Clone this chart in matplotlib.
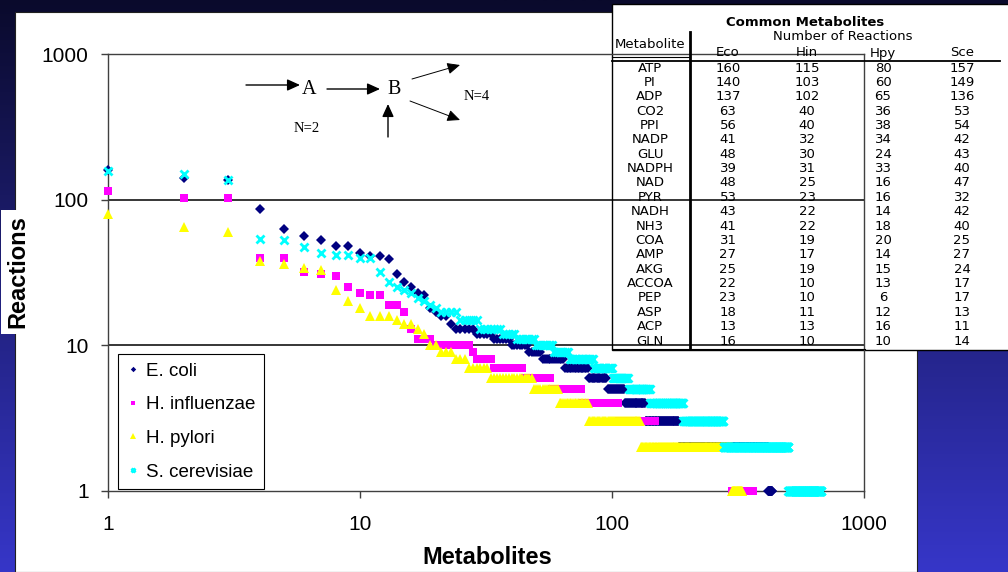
import numpy as np
import matplotlib
matplotlib.use('Agg')
import matplotlib.pyplot as plt
from matplotlib.patches import Rectangle
from matplotlib.lines import Line2D

W, H = 1008, 572

# rank-ordered reactions per metabolite: top values, then (reactions, count) plateaus
eco_top = [160, 140, 137, 86, 63, 56, 53, 48, 48, 43, 41, 41, 39, 31, 27, 25, 23, 22, 18, 17, 16, 16, 14]
eco_tail = [(13, 5), (12, 5), (11, 6), (10, 7), (9, 6), (8, 12), (7, 16), (6, 15), (5, 17),
            (4, 23), (3, 48), (2, 233), (1, 15)]
hin_top = [115, 103, 102, 40, 40, 32, 31, 30, 25, 23, 22, 22, 19, 19, 17, 13]
hin_tail = [(11, 3), (10, 8), (9, 1), (8, 5), (7, 11), (6, 13), (5, 18), (4, 31), (3, 42),
            (2, 151), (1, 64)]
hpy_top = [80, 65, 60, 38, 36, 34, 33, 24, 20, 18, 16, 16, 16, 15, 14, 14, 13, 12]
hpy_tail = [(10, 2), (9, 3), (8, 3), (7, 6), (6, 16), (5, 13), (4, 19), (3, 49), (2, 170), (1, 29)]
sce_top = [157, 149, 136, 54, 53, 47, 43, 42, 42, 40, 40, 32, 27, 25, 24, 23, 21, 20, 19, 18,
           17, 17, 17, 17]
sce_tail = [(15, 5), (13, 7), (12, 5), (11, 8), (10, 9), (9, 9), (8, 17), (7, 16), (6, 16),
            (5, 25), (4, 50), (3, 85), (2, 224), (1, 175)]

series_names = ['E. coli', 'H. influenzae', 'H. pylori', 'S. cerevisiae']

# table of common metabolites
tab_metab = ['ATP', 'PI', 'ADP', 'CO2', 'PPI', 'NADP', 'GLU', 'NADPH', 'NAD', 'PYR',
             'NADH', 'NH3', 'COA', 'AMP', 'AKG', 'ACCOA', 'PEP', 'ASP', 'ACP', 'GLN']
tab_eco = [160, 140, 137, 63, 56, 41, 48, 39, 48, 53, 43, 41, 31, 27, 25, 22, 23, 18, 13, 16]
tab_hin = [115, 103, 102, 40, 40, 32, 30, 31, 25, 23, 22, 22, 19, 17, 19, 10, 10, 11, 13, 10]
tab_hpy = [80, 60, 65, 36, 38, 34, 24, 33, 16, 16, 14, 18, 20, 14, 15, 13, 6, 12, 16, 10]
tab_sce = [157, 149, 136, 53, 54, 42, 43, 40, 47, 32, 42, 40, 25, 27, 24, 17, 17, 13, 11, 14]
tab_cols = ['Eco', 'Hin', 'Hpy', 'Sce']


def expand(top, tail):
    vals = list(top)
    for v, c in tail:
        vals += [v] * c
    return np.array(vals)


def fx(px):
    return px / W


def fy(py):
    return 1 - py / H


sans = 'Liberation Sans'
serif = 'Liberation Serif'
tabfont = 'DejaVu Sans'

fig = plt.figure(figsize=(W / 100, H / 100), dpi=100)

# slide background gradient
bg = fig.add_axes([0, 0, 1, 1], zorder=-10)
grad = np.linspace(0, 1, 256).reshape(-1, 1)
c0 = np.array([0x0a, 0x0a, 0x2c]) / 255
c1 = np.array([0x36, 0x36, 0xc8]) / 255
img = c0[None, None, :] * (1 - grad[:, :, None]) + c1[None, None, :] * grad[:, :, None]
bg.imshow(img, aspect='auto', extent=[0, 1, 0, 1])
bg.set_axis_off()

# white chart panel
fig.patches.append(Rectangle((fx(15), 0), fx(917) - fx(15), fy(12), transform=fig.transFigure,
                             facecolor='white', edgecolor='#202020', lw=0.8, zorder=-5))
# table panel
fig.patches.append(Rectangle((fx(612), fy(350)), 1 - fx(612) + 0.01, fy(4) - fy(350),
                             transform=fig.transFigure, facecolor='white', edgecolor='black',
                             lw=1.0, zorder=-4))

ax = fig.add_axes([fx(108), fy(491), fx(864) - fx(108), fy(54) - fy(491)])
ax.patch.set_alpha(0)
ax.set_xscale('log')
ax.set_yscale('log')
ax.set_xlim(1, 1000)
ax.set_ylim(1, 1000)

data = [(expand(eco_top, eco_tail), '#000080', 'D', 4.6, 0),
        (expand(hin_top, hin_tail), '#ff00ff', 's', 5.8, 0),
        (expand(hpy_top, hpy_tail), '#ffff00', '^', 6.6, 0),
        (expand(sce_top, sce_tail), '#00ffff', 'x', 6.0, 2.0)]
for (vals, col, mk, ms, mew), name in zip(data, series_names):
    ranks = np.arange(1, len(vals) + 1)
    ax.plot(ranks, vals, linestyle='none', marker=mk, ms=ms, mew=mew, color=col,
            label=name, clip_on=False, zorder=3)

for v in [10, 100, 1000]:
    ax.axhline(v, color='black', lw=1.1, zorder=1)
for s in ax.spines.values():
    s.set_color('#404040')
    s.set_linewidth(1.0)
ax.minorticks_off()
ax.set_xticks([1, 10, 100, 1000])
ax.set_yticks([1, 10, 100, 1000])
ax.set_xticklabels(['1', '10', '100', '1000'])
ax.set_yticklabels(['1', '10', '100', '1000'])
ax.tick_params(direction='out', length=5, width=1, color='#404040', labelsize=15)
ax.tick_params(axis='x', pad=12)
ax.tick_params(axis='y', pad=9)
for lab in ax.get_xticklabels() + ax.get_yticklabels():
    lab.set_fontfamily(sans)

fig.text(fx(487), fy(558), 'Metabolites', ha='center', va='center', fontsize=17,
         fontweight='bold', family=sans)
fig.text(fx(18), fy(272), 'Reactions', ha='center', va='center', rotation=90, fontsize=17,
         fontweight='bold', family=sans,
         bbox=dict(facecolor='white', edgecolor='none', pad=4))

leg = ax.legend(loc='lower left', bbox_to_anchor=(fx(118), fy(489)),
                bbox_transform=fig.transFigure, borderaxespad=0, frameon=True, fancybox=False,
                edgecolor='black', framealpha=1, prop={'family': sans, 'size': 13.5},
                markerscale=0.6, handlelength=0.7, handletextpad=0.35, labelspacing=0.88,
                borderpad=0.45)
leg.get_frame().set_linewidth(0.8)


# reaction diagram
def arrow(x0, y0, x1, y1, lw=1.0):
    fig.add_artist(matplotlib.patches.FancyArrowPatch(
        (fx(x0), fy(y0)), (fx(x1), fy(y1)), transform=fig.transFigure,
        arrowstyle='-|>,head_length=0.55,head_width=0.25', mutation_scale=14,
        color='black', lw=lw, shrinkA=0, shrinkB=0))


arrow(246, 85, 300, 85)
arrow(327, 89, 380, 89)
arrow(388, 137, 388, 104)
arrow(412, 79, 460, 65, lw=0.7)
arrow(410, 101, 460, 120, lw=0.7)
fig.text(fx(309), fy(89), 'A', ha='center', va='center', fontsize=14.5, family=serif)
fig.text(fx(394), fy(90), 'B', ha='center', va='center', fontsize=14.5, family=serif)
fig.text(fx(307), fy(129), 'N=2', ha='center', va='center', fontsize=10.5, family=serif)
fig.text(fx(477), fy(96), 'N=4', ha='center', va='center', fontsize=10.5, family=serif)

# table of common metabolites
fig.text(fx(805), fy(23), 'Common Metabolites', ha='center', va='center', fontsize=9.5,
         fontweight='bold', family=tabfont)
fig.text(fx(843), fy(37), 'Number of Reactions', ha='center', va='center', fontsize=9.5,
         family=tabfont)
fig.text(fx(650), fy(45), 'Metabolite', ha='center', va='center', fontsize=9.5, family=tabfont)
col_x = [728, 807, 883, 962]
for cx, name in zip(col_x, tab_cols):
    fig.text(fx(cx), fy(53), name, ha='center', va='center', fontsize=9.5, family=tabfont)
row_y0, row_dy = 68, 14.37
cols = [tab_eco, tab_hin, tab_hpy, tab_sce]
for i, m in enumerate(tab_metab):
    y = row_y0 + i * row_dy
    fig.text(fx(650), fy(y), m, ha='center', va='center', fontsize=9.5, family=tabfont)
    for cx, col in zip(col_x, cols):
        fig.text(fx(cx), fy(y), str(col[i]), ha='center', va='center', fontsize=9.5,
                 family=tabfont)


def fline(x0, y0, x1, y1, lw=1.0, color='black'):
    fig.add_artist(Line2D([fx(x0), fx(x1)], [fy(y0), fy(y1)], transform=fig.transFigure,
                          color=color, lw=lw))


fline(690, 32, 690, 348, lw=2.0)
fline(612, 61, 1000, 61, lw=1.3)
fline(612, 57, 690, 57, lw=0.8)
fline(612, 349, 865, 349, lw=0.8)

fig.savefig('out.png', dpi=100)
